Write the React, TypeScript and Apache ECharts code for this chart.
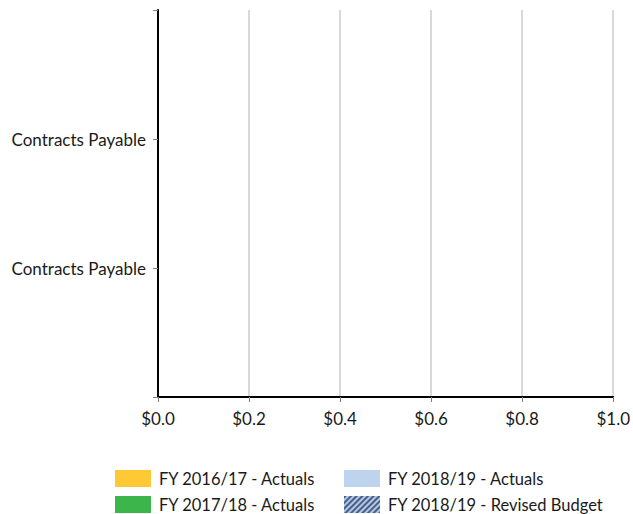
import React, { useEffect, useRef } from "react";
import * as echarts from "echarts";

const categories = ["", "Contracts Payable", "Contracts Payable", ""];
const fy1617Actuals = [null, 0, 0, null];
const fy1718Actuals = [null, 0, 0, null];
const fy1819Actuals = [null, 0, 0, null];
const fy1819Revised = [null, 0, 0, null];
const seriesNames = [
  "FY 2016/17 - Actuals",
  "FY 2017/18 - Actuals",
  "FY 2018/19 - Actuals",
  "FY 2018/19 - Revised Budget",
];
const xTicks = { min: 0, max: 1, interval: 0.2 };

const FONT = "Lato, 'Open Sans', sans-serif";

export default function App() {
  const ref = useRef<HTMLDivElement>(null);
  useEffect(() => {
    if (!ref.current) return;
    const chart = echarts.init(ref.current, undefined, { renderer: "svg" });
    const legendBase = {
      orient: "vertical" as const,
      top: 470,
      padding: 0,
      icon: "rect",
      itemWidth: 36,
      itemHeight: 17,
      itemGap: 9,
      textStyle: { fontSize: 16.5, fontFamily: FONT, color: "#1a1a1a", padding: [0, 0, 0, 3] },
    };
    chart.setOption({
      animation: false,
      backgroundColor: "#ffffff",
      grid: { left: 158, right: 18, top: 10, bottom: 117, containLabel: false },
      legend: [
        { ...legendBase, left: 115, data: [seriesNames[0], seriesNames[1]] },
        { ...legendBase, left: 344, data: [seriesNames[2], seriesNames[3]] },
      ],
      xAxis: {
        type: "value",
        min: xTicks.min,
        max: xTicks.max,
        interval: xTicks.interval,
        axisLine: { show: true, lineStyle: { color: "#000000", width: 2 } },
        axisTick: { show: true, length: 5, lineStyle: { color: "#7f7f7f", width: 1 } },
        splitLine: { show: true, lineStyle: { color: "#d9d9d9", width: 2 } },
        axisLabel: {
          fontSize: 17,
          fontFamily: FONT,
          color: "#1a1a1a",
          margin: 13,
          formatter: (v: number) => "$" + v.toFixed(1),
        },
      },
      yAxis: {
        type: "category",
        data: categories,
        boundaryGap: false,
        axisLine: { show: true, lineStyle: { color: "#000000", width: 2 } },
        axisTick: { show: true, length: 5, interval: 0, lineStyle: { color: "#7f7f7f", width: 1 } },
        splitLine: { show: false },
        axisLabel: { interval: 0, fontSize: 17, fontFamily: FONT, color: "#1a1a1a", margin: 12 },
      },
      series: [
        { name: seriesNames[0], type: "bar", data: fy1617Actuals, itemStyle: { color: "#ffc935" } },
        { name: seriesNames[1], type: "bar", data: fy1718Actuals, itemStyle: { color: "#3cb54a" } },
        { name: seriesNames[2], type: "bar", data: fy1819Actuals, itemStyle: { color: "#bdd3ee" } },
        {
          name: seriesNames[3],
          type: "bar",
          data: fy1819Revised,
          itemStyle: {
            color: "#b4c7e7",
            decal: {
              symbol: "rect",
              symbolSize: 1,
              dashArrayX: [1, 0],
              dashArrayY: [2, 2],
              rotation: -Math.PI / 4,
              color: "#4a5f86",
            },
          },
        },
      ],
    });
    return () => chart.dispose();
  }, []);
  return (
    <div
      ref={ref}
      style={{ position: "fixed", left: 0, top: 0, width: 633, height: 514 }}
    />
  );
}
